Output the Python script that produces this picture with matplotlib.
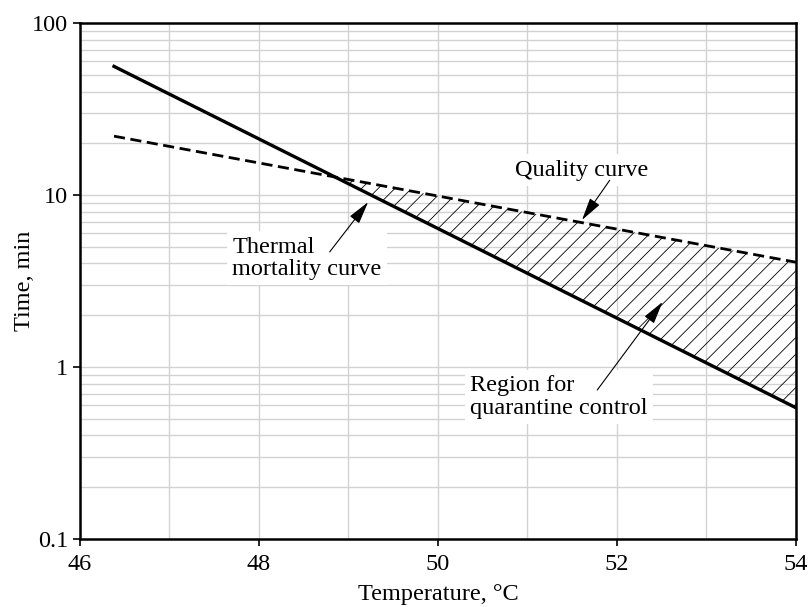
import numpy as np
import matplotlib.pyplot as plt
from matplotlib.ticker import FixedLocator, FuncFormatter, LogLocator, NullFormatter

plt.rcParams['font.family'] = ['Liberation Serif', 'DejaVu Serif']
plt.rcParams['hatch.linewidth'] = 0.6

# end points of the two straight (log-linear) curves
temp = [46.38, 54.0]            # deg C
mortality_time = [56.0, 0.58]   # min, thermal mortality curve
quality_time = [22.0, 4.07]     # min, quality curve

x_ticks = [46, 48, 50, 52, 54]
y_ticks = [0.1, 1, 10, 100]

FS = 17.5

fig = plt.figure(figsize=(8.08, 6.07), dpi=100)
ax = fig.add_axes([0.099, 0.112, 0.886, 0.850])
ax.set_yscale('log')
ax.set_xlim(46, 54)
ax.set_ylim(0.1, 100)

# light grid: every degree, and log minor lines
ax.xaxis.set_major_locator(FixedLocator(x_ticks))
ax.xaxis.set_minor_locator(FixedLocator(np.arange(47, 54, 2)))
ax.yaxis.set_major_locator(FixedLocator(y_ticks))
ax.yaxis.set_major_formatter(FuncFormatter(lambda v, p: '%g' % v))
ax.yaxis.set_minor_locator(LogLocator(base=10, subs=np.arange(2, 10)))
ax.yaxis.set_minor_formatter(NullFormatter())
ax.grid(True, which='both', color='#d2d2d2', lw=1.0, zorder=0)
ax.set_axisbelow(True)
ax.tick_params(which='minor', length=0)
ax.tick_params(which='major', length=5, width=1.2, labelsize=FS, direction='out')
ax.tick_params(axis='x', pad=6)
for s in ax.spines.values():
    s.set_linewidth(1.8)

ax.plot(temp, mortality_time, color='black', lw=2.4, zorder=3)
ax.plot(temp, quality_time, color='black', lw=2.0, ls=(0, (4, 2)), zorder=3)

# hatched region between the curves, from their crossing to the right edge
lm = np.log10(mortality_time)
lq = np.log10(quality_time)
sm = (lm[1] - lm[0]) / (temp[1] - temp[0])
sq = (lq[1] - lq[0]) / (temp[1] - temp[0])
xc = temp[0] + (lq[0] - lm[0]) / (sm - sq)
yc = 10 ** (lm[0] + sm * (xc - temp[0]))
ax.fill([xc, temp[1], temp[1]], [yc, quality_time[1], mortality_time[1]],
        facecolor='none', edgecolor='black', lw=0, hatch='//', zorder=2)

arrow = dict(arrowstyle='-|>,head_length=0.7,head_width=0.18', lw=0.8,
             color='black', shrinkA=0, shrinkB=0, mutation_scale=20)
box = dict(facecolor='white', edgecolor='none', pad=4)

ax.text(47.70, 4.3, 'Thermal\nmortality curve', fontsize=FS, ha='left',
        va='center', linespacing=1.07, bbox=box, zorder=4)
ax.annotate('', xy=(49.22, 9.1), xytext=(48.79, 4.67), arrowprops=arrow, zorder=4)

ax.text(51.61, 13.96, 'Quality curve', fontsize=FS, ha='center',
        va='center', bbox=box, zorder=4)
ax.annotate('', xy=(51.61, 7.16), xytext=(51.92, 12.2), arrowprops=arrow, zorder=4)

ax.text(50.36, 0.67, 'Region for\nquarantine control', fontsize=FS, ha='left',
        va='center', linespacing=1.07, bbox=box, zorder=4)
ax.annotate('', xy=(52.51, 2.39), xytext=(51.78, 0.735), arrowprops=arrow, zorder=4)

ax.set_xlabel('Temperature, °C', fontsize=FS, labelpad=6)
ax.set_ylabel('Time, min', fontsize=FS, labelpad=-2)

fig.savefig('out.png', dpi=100)
